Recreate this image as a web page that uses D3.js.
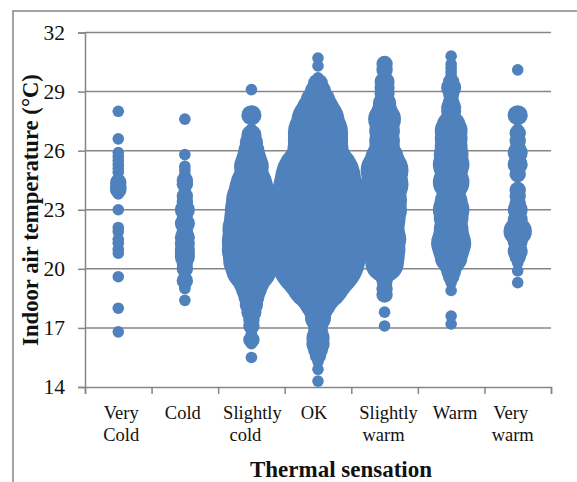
<!DOCTYPE html>
<html>
<head>
<meta charset="utf-8">
<script src="https://cdn.jsdelivr.net/npm/d3@7/dist/d3.min.js"></script>
<style>
html,body{margin:0;padding:0;background:#fff;overflow:hidden}
svg{display:block}
text{font-family:"Liberation Serif",serif;fill:#111}
</style>
</head>
<body>
<script>
const categories = ["Very Cold","Cold","Slightly cold","OK","Slightly warm","Warm","Very warm"];
const categoryLines = [["Very","Cold"],["Cold"],["Slightly","cold"],["OK"],["Slightly","warm"],["Warm"],["Very","warm"]];
const yTicks = [14,17,20,23,26,29,32];

const veryColdTemps  = [28,26.6,25.9,25.7,25.5,25.3,25.1,24.9,24.6,24.4,24.2,24.1,24,23.8,23,22.1,21.9,21.5,21.3,21,20.8,19.6,18,16.8];
const veryColdCounts = [1,1,1,1,1,1,1,1,1,2,2,2,2,1,1,1,1,1,1,1,1,1,1,1];

const coldTemps  = [27.6,25.8,25.2,25,24.8,24.5,24.3,24,23.7,23.4,23.2,23,22.8,22.5,22.3,22.1,21.9,21.6,21.3,21,20.8,20.6,20.3,20,19.7,19.4,19.1,19,18.4];
const coldCounts = [1,1,1,1,1,2,2,1,2,2,2,3,2,2,3,2,2,3,3,3,3,3,2,2,1,2,1,1,1];

const slightlyColdTemps  = [29.1,27.8,27.1,26.8,26.4,26,25.7,25.5,25.2,24.6,24.3,24,23.5,23,22.6,22,21.4,21,20.5,20.1,19.8,19.4,19,18.6,18.2,17.8,17.4,17.1,16.7,16.4,16.2,15.5];
const slightlyColdCounts = [1,3,1,3,4,5,6,7,9,10,13,15,19,21,22,25,26,26,24,20,14,10,7,5,4,3,2,2,1,2,1,1];

const okTemps  = [30.7,30.3,29.7,29.4,29,28.5,28,27.5,26.9,26.5,26,25.5,25.2,25,24.5,24,23.5,23,22.5,22,21.5,21,20.7,20.3,19.9,19.5,19.1,18.7,18.3,17.9,17.5,17.1,16.8,16.5,16.2,15.9,15.6,15.3,14.9,14.3];
const okCounts = [1,1,1,3,5,9,14,21,27,27,28,31,34,40,55,60,66,70,74,72,70,69,68,54,42,33,22,15,10,6,5,3,3,4,4,3,2,1,1,1];

const slightlyWarmTemps  = [30.4,30.1,29.5,29.2,28.9,28.4,28,27.6,27,26.5,26.1,25.6,25.2,25,24.3,23.5,23,22.5,22,21.5,21,20.6,20.3,20,19.7,19.4,19,18.7,17.8,17.1];
const slightlyWarmCounts = [2,2,3,3,3,4,5,8,7,7,7,11,13,17,17,15,15,13,12,14,13,12,11,6,3,2,2,2,1,1];

const warmTemps  = [30.8,30.4,30.2,30,29.8,29.5,29.2,28.9,28.5,28.2,28,27.3,27,26.6,26.2,25.8,25.3,24.9,24.4,24.1,23.8,23.4,23,22.6,22,21.6,21.3,21,20.6,20.3,19.9,19.6,19.3,18.9,17.6,17.2];
const warmCounts = [1,1,1,1,1,2,3,2,2,3,3,6,8,8,8,9,10,8,10,7,6,8,10,9,9,10,12,10,8,5,3,2,1,1,1,1];

const veryWarmTemps  = [30.1,27.8,27.1,26.9,26.5,26.1,25.9,25.5,25.3,24.8,24,23.7,23.3,23,22.5,22.2,21.9,21.4,20.9,20.6,20.3,19.9,19.3];
const veryWarmCounts = [1,3,1,2,2,2,3,2,3,2,2,2,2,3,3,3,6,3,3,2,1,1,1];

const seriesTemps  = [veryColdTemps,coldTemps,slightlyColdTemps,okTemps,slightlyWarmTemps,warmTemps,veryWarmTemps];
const seriesCounts = [veryColdCounts,coldCounts,slightlyColdCounts,okCounts,slightlyWarmCounts,warmCounts,veryWarmCounts];

const W = 577, H = 482;
const plot = {left:85, right:551, top:32.5, bottom:387};
const grey = "#868686", blue = "#4F81BD";
// small horizontal offsets of each label line, to follow the reference's centring
const labelShift = [[3,3],[-2],[1,-6],[-4],[4,-1],[4],[-7,-5]];

const svg = d3.select("body").append("svg").attr("width",W).attr("height",H);

// outer chart frame (top and left edges only are visible)
svg.append("path").attr("d",d3.line()([[13,H],[13,11],[W,11]]))
   .attr("fill","none").attr("stroke",grey).attr("stroke-width",1.5);

const y = d3.scaleLinear().domain([14,32]).range([plot.bottom,plot.top]);
const x = d3.scaleBand().domain(categories).range([plot.left,plot.right]);
const xEdges = d3.scaleLinear().domain([0,categories.length]).range([plot.left,plot.right]);
const r = d3.scaleSqrt().domain([0,1]).range([0,5.8]);

// y axis + gridlines
const gy = svg.append("g").attr("transform",`translate(${plot.left},0)`)
  .call(d3.axisLeft(y).tickValues(yTicks).tickSize(7).tickPadding(13));
gy.selectAll("path,line").attr("stroke",grey).attr("stroke-width",1.5);
gy.selectAll("text").style("font-size","21.5px").style("font-family",'"Liberation Serif",serif').attr("fill","#111");
svg.insert("g","g").selectAll("line").data(yTicks.filter(t=>t>14)).join("line")
  .attr("x1",plot.left).attr("x2",plot.right)
  .attr("y1",d=>y(d)).attr("y2",d=>y(d))
  .attr("stroke",grey).attr("stroke-width",1.5);

// x axis
const gx = svg.append("g").attr("transform",`translate(0,${plot.bottom})`)
  .call(d3.axisBottom(xEdges).tickValues(d3.range(categories.length+1)).tickFormat("").tickSize(7));
gx.selectAll("path,line").attr("stroke",grey).attr("stroke-width",1.5);

// bubbles
categories.forEach((c,i)=>{
  svg.append("g").attr("fill",blue).selectAll("circle")
    .data(seriesTemps[i].map((t,k)=>({t,n:seriesCounts[i][k]})))
    .join("circle")
    .attr("cx",x(c)+x.bandwidth()/2)
    .attr("cy",d=>y(d.t))
    .attr("r",d=>r(d.n));
});

// category labels
categories.forEach((c,i)=>{
  categoryLines[i].forEach((line,k)=>{
    svg.append("text").attr("text-anchor","middle")
      .attr("x",x(c)+x.bandwidth()/2+labelShift[i][k])
      .attr("y",419+k*22)
      .style("font-size","18.5px").text(line);
  });
});

// axis titles
svg.append("text").attr("text-anchor","middle").attr("x",341).attr("y",477)
  .style("font-size","23px").style("font-weight","bold").text("Thermal sensation");
svg.append("text").attr("text-anchor","middle")
  .attr("transform","translate(38,210) rotate(-90)")
  .style("font-size","22.7px").style("font-weight","bold").text("Indoor air temperature (°C)");
</script>
</body>
</html>
